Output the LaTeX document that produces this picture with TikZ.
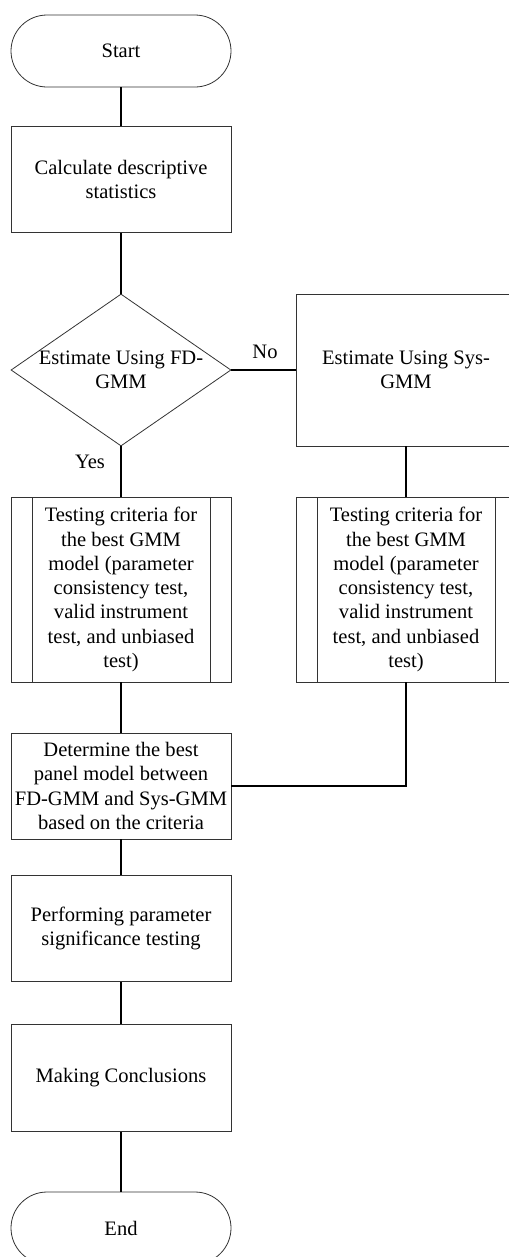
\documentclass[tikz,border=0pt]{standalone}
\usepackage{fontspec}
\setmainfont{Liberation Serif}
\usetikzlibrary{shapes.geometric}

\begin{document}
\begin{tikzpicture}
			[
				x = 0.75pt, y = -0.75pt,
				every node/.style = {font = \fontsize{15.4pt}{18.2pt}\selectfont, align = center},
				box/.style = {draw = black!80, line width = 0.6pt, minimum width = 165pt, inner sep = 0pt},
				terminal/.style = {box, minimum height = 54pt, rounded corners = 27pt},
				process/.style = {box, minimum height = 80pt},
				decision/.style = {diamond, draw = black!80, line width = 0.6pt, minimum width = 165pt, minimum height = 114pt, inner sep = 0pt},
				predefined/.style = {box, minimum height = 138.75pt,
					path picture = {
						\draw[line width = 0.6pt, black!80] ([xshift = 15.75pt]path picture bounding box.north west) -- ([xshift = 15.75pt]path picture bounding box.south west);
						\draw[line width = 0.6pt, black!80] ([xshift = -15.75pt]path picture bounding box.north east) -- ([xshift = -15.75pt]path picture bounding box.south east);
					}},
				line/.style = {draw, line width = 1pt}
			]
			\useasboundingbox (0,0) rectangle (508,1257);
			\node[terminal] (start) at (121,51) {Start};
			\node[process] (calc) at (121,179.5) {Calculate descriptive\\statistics};
			\node[decision, label = {[align = center]center:Estimate Using FD-\\GMM}] (fdgmm) at (121,370) {};
			\node[box, minimum height = 114pt] (sysgmm) at (406,370) {Estimate Using Sys-\\GMM};
			\node[predefined] (testfd) at (121,589.5) {Testing criteria for\\the best GMM\\model (parameter\\consistency test,\\valid instrument\\test, and unbiased\\test)};
			\node[predefined] (testsys) at (406,589.5) {Testing criteria for\\the best GMM\\model (parameter\\consistency test,\\valid instrument\\test, and unbiased\\test)};
			\node[process, minimum height = 79.5pt] (best) at (121,786) {Determine the best\\panel model between\\FD-GMM and Sys-GMM\\based on the criteria};
			\node[process] (signif) at (121,928.5) {Performing parameter\\significance testing};
			\node[process] (concl) at (121,1078) {Making Conclusions};
			\node[terminal] (end) at (121,1228) {End};
			\node (no) at (265,352) {No};
			\node (yes) at (90,462) {Yes};
			\draw[line] (start) -- (calc);
			\draw[line] (calc) -- (fdgmm);
			\draw[line] (fdgmm.east) -- (sysgmm.west);
			\draw[line] (fdgmm.south) -- (testfd.north);
			\draw[line] (sysgmm) -- (testsys);
			\draw[line] (testfd) -- (best);
			\draw[line] (testsys.south) |- (best.east);
			\draw[line] (best) -- (signif);
			\draw[line] (signif) -- (concl);
			\draw[line] (concl) -- (end);
			\end{tikzpicture}
\end{document}
